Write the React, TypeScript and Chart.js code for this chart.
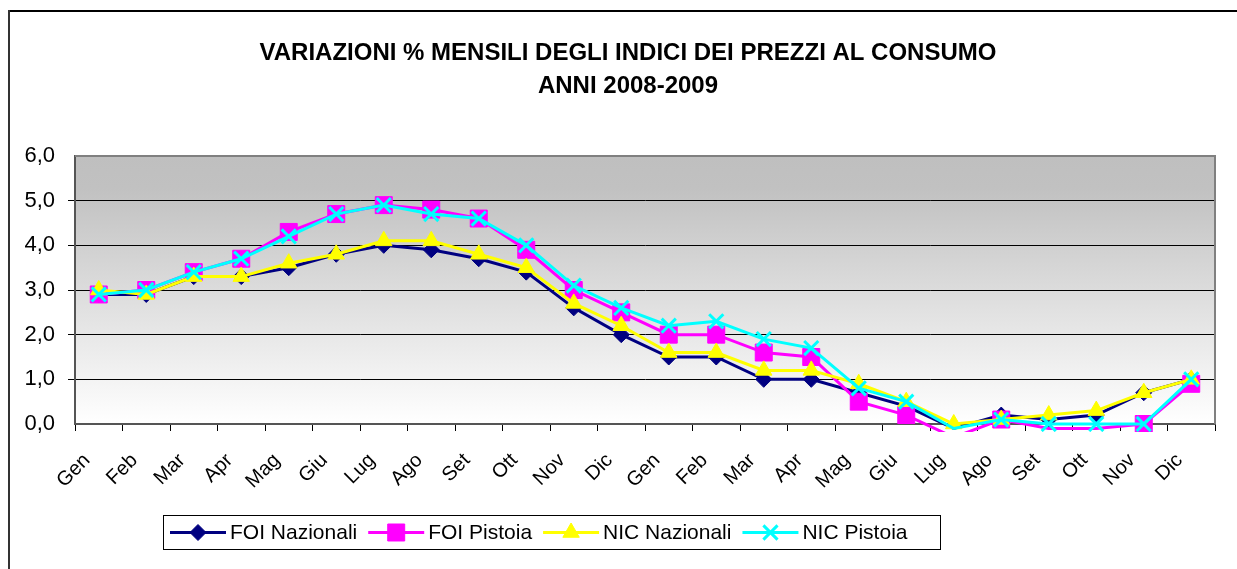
import React, { useEffect, useRef } from 'react';
import { Chart, registerables } from 'chart.js';
import { drawPoint } from 'chart.js/helpers';

Chart.register(...registerables);

const titleLines = ['VARIAZIONI % MENSILI DEGLI INDICI DEI PREZZI AL CONSUMO', 'ANNI 2008-2009'];

const months = ['Gen', 'Feb', 'Mar', 'Apr', 'Mag', 'Giu', 'Lug', 'Ago', 'Set', 'Ott', 'Nov', 'Dic',
  'Gen', 'Feb', 'Mar', 'Apr', 'Mag', 'Giu', 'Lug', 'Ago', 'Set', 'Ott', 'Nov', 'Dic'];

const foiNazionali = [2.9, 2.9, 3.3, 3.3, 3.5, 3.8, 4.0, 3.9, 3.7, 3.4, 2.6, 2.0,
  1.5, 1.5, 1.0, 1.0, 0.7, 0.4, -0.1, 0.2, 0.1, 0.2, 0.7, 1.0];
const foiPistoia = [2.9, 3.0, 3.4, 3.7, 4.3, 4.7, 4.9, 4.8, 4.6, 3.9, 3.0, 2.5,
  2.0, 2.0, 1.6, 1.5, 0.5, 0.2, -0.3, 0.1, -0.1, -0.1, 0.0, 0.9];
const nicNazionali = [3.0, 2.9, 3.3, 3.3, 3.6, 3.8, 4.1, 4.1, 3.8, 3.5, 2.7, 2.2,
  1.6, 1.6, 1.2, 1.2, 0.9, 0.5, 0.0, 0.1, 0.2, 0.3, 0.7, 1.0];
const nicPistoia = [2.9, 3.0, 3.4, 3.7, 4.2, 4.7, 4.9, 4.7, 4.6, 4.0, 3.1, 2.6,
  2.2, 2.3, 1.9, 1.7, 0.8, 0.5, -0.1, 0.1, 0.0, 0.0, 0.0, 1.0];

const seriesNames = ['FOI Nazionali', 'FOI Pistoia', 'NIC Nazionali', 'NIC Pistoia'];
const seriesColors = ['#000080', '#ff00ff', '#ffff00', '#00ffff'];
const seriesStyles = ['rectRot', 'rect', 'triangle', 'crossRot'];
const seriesRadius = [8, 12, 9.5, 10];
const seriesOrder = [3, 2, 1, 0];
const seriesData = [foiNazionali, foiPistoia, nicNazionali, nicPistoia];

const FONT = '"Liberation Sans", Arial, sans-serif';

const decorPlugin = {
  id: 'decor',
  beforeDraw(chart: any) {
    const { ctx, chartArea: a } = chart;
    ctx.save();
    ctx.fillStyle = '#ffffff';
    ctx.fillRect(0, 0, chart.width, chart.height);
    ctx.fillStyle = '#000000';
    ctx.fillRect(8, 10, chart.width - 8, 2);
    ctx.fillStyle = '#333333';
    ctx.fillRect(8, 10, 2, chart.height - 10);
    const g = ctx.createLinearGradient(0, a.top, 0, a.bottom);
    g.addColorStop(0, '#bfbfbf');
    g.addColorStop(0.12, '#c1c1c1');
    g.addColorStop(1, '#ffffff');
    ctx.fillStyle = g;
    ctx.fillRect(a.left, a.top, a.right - a.left, a.bottom - a.top);
    ctx.restore();
  },
  beforeDatasetsDraw(chart: any) {
    const { ctx, chartArea: a } = chart;
    ctx.save();
    ctx.strokeStyle = '#808080';
    ctx.lineWidth = 2;
    ctx.beginPath();
    ctx.moveTo(a.left, a.top);
    ctx.lineTo(a.right, a.top);
    ctx.lineTo(a.right, a.bottom);
    ctx.stroke();
    ctx.restore();
  },
  afterDraw(chart: any) {
    const { ctx } = chart;
    ctx.save();
    // title
    ctx.fillStyle = '#000';
    ctx.font = 'bold 24px ' + FONT;
    ctx.textAlign = 'center';
    ctx.textBaseline = 'middle';
    ctx.fillText(titleLines[0], 628, 53);
    ctx.fillText(titleLines[1], 628, 86);
    // legend
    ctx.strokeStyle = '#000';
    ctx.lineWidth = 1;
    ctx.strokeRect(163.5, 515.5, 777, 34);
    ctx.font = '21px ' + FONT;
    ctx.textAlign = 'left';
    let x = 170;
    const y = 532.5;
    chart.data.datasets.forEach((ds: any, i: number) => {
      ctx.strokeStyle = ds.borderColor;
      ctx.fillStyle = ds.backgroundColor;
      ctx.lineWidth = 3;
      ctx.beginPath();
      ctx.moveTo(x, y);
      ctx.lineTo(x + 56, y);
      ctx.stroke();
      ctx.lineWidth = ds.pointBorderWidth;
      drawPoint(ctx, { pointStyle: ds.pointStyle, radius: seriesRadius[i], rotation: 0, borderWidth: ds.pointBorderWidth }, x + 28, y);
      ctx.fillStyle = '#000';
      const tx = x + 60;
      ctx.fillText(ds.label, tx, y + 1);
      x = tx + ctx.measureText(ds.label).width + 11;
    });
    ctx.restore();
  },
};

export default function App() {
  const ref = useRef<HTMLCanvasElement | null>(null);
  useEffect(() => {
    if (!ref.current) return;
    const datasets = seriesData.map((d, i) => ({
      label: seriesNames[i],
      data: d,
      borderColor: seriesColors[i],
      backgroundColor: seriesColors[i],
      borderWidth: 3,
      pointStyle: seriesStyles[i],
      pointRadius: (c: any) => (c.raw < 0 ? 0 : seriesRadius[i]),
      pointBorderWidth: seriesStyles[i] === 'crossRot' ? 3 : 1,
      pointBorderColor: seriesColors[i],
      pointBackgroundColor: seriesColors[i],
      tension: 0,
      order: seriesOrder[i],
      clip: { left: 20, top: 20, right: 20, bottom: 8 },
    }));
    const chart = new Chart(ref.current, {
      type: 'line',
      data: { labels: months, datasets },
      options: {
        animation: false,
        responsive: false,
        devicePixelRatio: 1,
        layout: { padding: { top: 156, right: 22, left: 0, bottom: 0 } },
        plugins: { legend: { display: false }, title: { display: false }, tooltip: { enabled: false } },
        scales: {
          x: {
            type: 'category',
            offset: true,
            afterFit: (s: any) => { s.height = 145; },
            grid: { offset: true, drawOnChartArea: false, drawTicks: true, tickLength: 7, color: '#000' },
            border: { color: '#555', width: 2 },
            ticks: {
              autoSkip: false, maxRotation: 45, minRotation: 45, padding: 6,
              color: '#000', font: { family: FONT, size: 20 },
              callback: function (this: any, v: any) { return this.getLabelForValue(v) + '   '; },
            },
          },
          y: {
            min: 0, max: 6,
            afterFit: (s: any) => { s.width = 75; },
            grid: {
              tickLength: 7,
              color: (c: any) => (c.tick && (c.tick.value === 0 || c.tick.value === 6) ? 'rgba(0,0,0,0)' : '#000'),
              lineWidth: 1,
            },
            border: { color: '#555', width: 2 },
            ticks: {
              stepSize: 1, padding: 13, color: '#000',
              font: { family: FONT, size: 22 },
              callback: (v: any) => Number(v).toFixed(1).replace('.', ','),
            },
          },
        },
      },
      plugins: [decorPlugin],
    });
    return () => chart.destroy();
  }, []);
  return (
    <div style={{ position: 'absolute', left: 0, top: 0, width: 1237, height: 569 }}>
      <canvas ref={ref} width={1237} height={569} style={{ display: 'block' }} />
    </div>
  );
}
